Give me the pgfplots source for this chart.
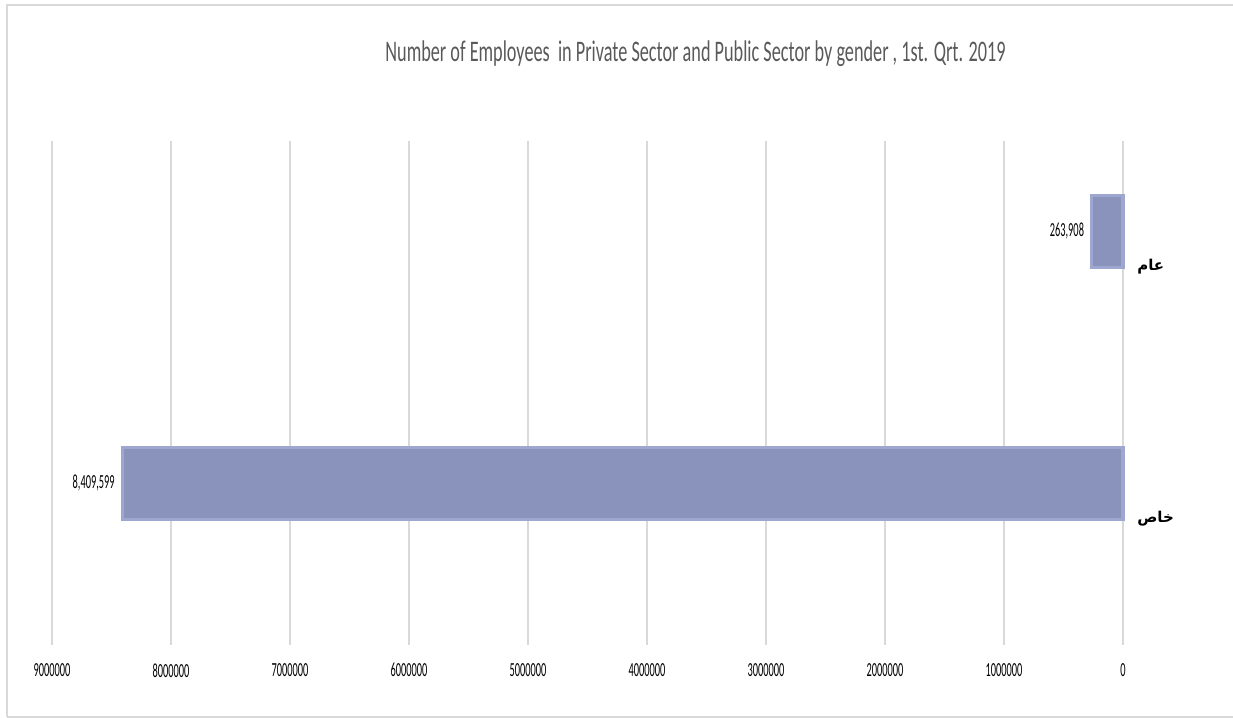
\documentclass[border=0pt]{standalone}
\usepackage{fontspec}
\usepackage{pgfplots}
\pgfplotsset{compat=1.18}
\setmainfont{Carlito}
\newfontfamily\titlefont{Carlito}[FakeStretch=0.61]
\newfontfamily\numfont{Carlito}[FakeStretch=0.52]
\newfontfamily\arabicfont[Script=Arabic]{DejaVu Sans}
\TeXXeTstate=1
\definecolor{barfill}{HTML}{8A93BC}
\definecolor{baredge}{HTML}{9EA7CF}
\definecolor{gridgray}{HTML}{D9D9D9}
\definecolor{titlegray}{HTML}{595959}

\begin{document}
\begin{tikzpicture}
\useasboundingbox (0,0) rectangle (616.5bp,359bp);
% chart frame
\draw[gridgray, line width=0.8bp] (3.5bp,0.5bp) -- (3.5bp,356.5bp) -- (640bp,356.5bp);
\draw[gridgray, line width=0.8bp] (3.5bp,0.5bp) -- (640bp,0.5bp);
\node[font=\titlefont\fontsize{15}{17}\selectfont, text=titlegray, anchor=base]
  at (347.75bp,328bp) {Number of Employees\ \ in Private Sector and Public Sector by gender , 1st. Qrt. 2019};
\begin{axis}[
  at={(26bp,36.5bp)}, anchor=south west,
  width=535.5bp, height=252bp, scale only axis,
  xbar, x dir=reverse,
  xmin=0, xmax=9000000,
  ymin=-0.5, ymax=1.5,
  scaled x ticks=false,
  xtick={0,1000000,2000000,3000000,4000000,5000000,6000000,7000000,8000000,9000000},
  xticklabels={0,1000000,2000000,3000000,4000000,5000000,6000000,7000000,8000000,9000000},
  ytick={0,1},
  yticklabels={{\arabicfont\bfseries\beginR خاص\endR}, {\arabicfont\bfseries\beginR عام\endR}},
  yticklabel pos=right,
  xticklabel style={font=\numfont\fontsize{10}{12}\selectfont, anchor=north, inner sep=0pt, yshift=-9bp},
  yticklabel style={font=\fontsize{7.5}{9}\selectfont, anchor=west, inner sep=0pt, xshift=7bp},
  major tick length=0pt,
  xmajorgrids, grid style={gridgray, line width=0.8bp},
  axis line style={draw=none},
  clip=false,
]
\addplot[fill=barfill, draw=baredge, line width=1.6bp, bar width=0.2857, bar shift=0.141,
  nodes near coords, point meta=explicit symbolic,
  every node near coord/.append style={anchor=east, inner sep=0pt, xshift=-3bp,
    font=\numfont\fontsize{10}{12}\selectfont, text=black}]
  coordinates {(8409599,0) [8,409,599] (263908,1) [263,908]};
\end{axis}
\end{tikzpicture}
\end{document}
